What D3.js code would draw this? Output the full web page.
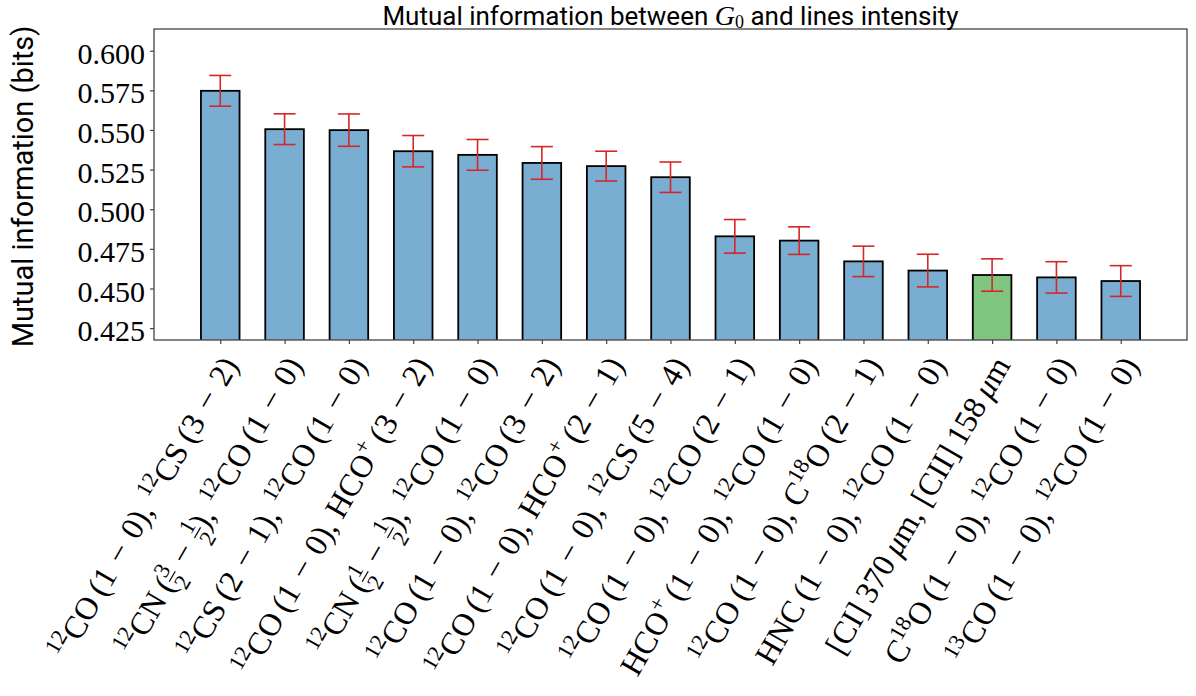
<!DOCTYPE html>
<html><head><meta charset="utf-8">
<script src="https://cdn.jsdelivr.net/npm/d3@7/dist/d3.min.js"></script>
<style>body{margin:0;background:#fff}svg{display:block}</style>
</head><body>
<svg id="c" width="1196" height="696"></svg>
<script>
// ---- data ----
const categories = [
  "^{12}CO\u2009(1\u2004−\u20040), ^{12}CS\u2009(3\u2004−\u20042)",
  "^{12}CN\u2009(\\frac{3}{2}\u2004−\u2004\\frac{1}{2}), ^{12}CO\u2009(1\u2004−\u20040)",
  "^{12}CS\u2009(2\u2004−\u20041), ^{12}CO\u2009(1\u2004−\u20040)",
  "^{12}CO\u2009(1\u2004−\u20040), HCO^{+}\u2009(3\u2004−\u20042)",
  "^{12}CN\u2009(\\frac{1}{2}\u2004−\u2004\\frac{1}{2}), ^{12}CO\u2009(1\u2004−\u20040)",
  "^{12}CO\u2009(1\u2004−\u20040), ^{12}CO\u2009(3\u2004−\u20042)",
  "^{12}CO\u2009(1\u2004−\u20040), HCO^{+}\u2009(2\u2004−\u20041)",
  "^{12}CO\u2009(1\u2004−\u20040), ^{12}CS\u2009(5\u2004−\u20044)",
  "^{12}CO\u2009(1\u2004−\u20040), ^{12}CO\u2009(2\u2004−\u20041)",
  "HCO^{+}\u2009(1\u2004−\u20040), ^{12}CO\u2009(1\u2004−\u20040)",
  "^{12}CO\u2009(1\u2004−\u20040), C^{18}O\u2009(2\u2004−\u20041)",
  "HNC\u2009(1\u2004−\u20040), ^{12}CO\u2009(1\u2004−\u20040)",
  "[CI]\u2009370\u2009\\mu{}m, [CII]\u2009158\u2009\\mu{}m",
  "C^{18}O\u2009(1\u2004−\u20040), ^{12}CO\u2009(1\u2004−\u20040)",
  "^{13}CO\u2009(1\u2004−\u20040), ^{12}CO\u2009(1\u2004−\u20040)"
];
const values = [0.5747, 0.5505, 0.5499, 0.5366, 0.5343, 0.5292, 0.5272, 0.5202,
                0.4829, 0.4802, 0.4671, 0.4613, 0.4585, 0.4570, 0.4547];
const errors = [0.0097, 0.0097, 0.0102, 0.0099, 0.0097, 0.0103, 0.0094, 0.0096,
                0.0106, 0.0087, 0.0096, 0.0103, 0.0102, 0.0099, 0.0097];
const highlight = [false,false,false,false,false,false,false,false,false,false,false,false,true,false,false];
const yTicks = [0.425, 0.450, 0.475, 0.500, 0.525, 0.550, 0.575, 0.600];
const yLimits = [0.4175, 0.6137];
const titleParts = ["Mutual information between ", "G", "0", " and lines intensity"];
const yLabel = "Mutual information (bits)";

// ---- layout ----
const svg = d3.select("#c");
const L = 154, R = 1187, T = 29, B = 340;
const x = d3.scaleLinear().domain([-1.03, categories.length - 1 + 1.03]).range([L, R]);
const y = d3.scaleLinear().domain(yLimits).range([B, T]);
const barW = 0.6;
const blue = "#79add2", green = "#80c680", errColor = "#d62728";

svg.append("clipPath").attr("id","clip").append("rect")
  .attr("x", L).attr("y", T).attr("width", R-L).attr("height", B-T);

const gBars = svg.append("g").attr("clip-path","url(#clip)");
gBars.selectAll("rect").data(values).join("rect")
  .attr("x", (d,i) => x(i - barW/2))
  .attr("width", x(barW) - x(0))
  .attr("y", d => y(d))
  .attr("height", d => y(0) - y(d))
  .attr("fill", (d,i) => highlight[i] ? green : blue)
  .attr("stroke", "#000").attr("stroke-width", 1.8);

// error bars
const cap = 11;
const gErr = svg.append("g").attr("stroke", errColor).attr("stroke-width", 1.6);
values.forEach((v,i) => {
  const cx = x(i);
  gErr.append("line").attr("x1",cx).attr("x2",cx).attr("y1",y(v-errors[i])).attr("y2",y(v+errors[i]));
  gErr.append("line").attr("x1",cx-cap).attr("x2",cx+cap).attr("y1",y(v-errors[i])).attr("y2",y(v-errors[i]));
  gErr.append("line").attr("x1",cx-cap).attr("x2",cx+cap).attr("y1",y(v+errors[i])).attr("y2",y(v+errors[i]));
});

// frame
svg.append("rect").attr("x",L).attr("y",T).attr("width",R-L).attr("height",B-T)
  .attr("fill","none").attr("stroke","#444").attr("stroke-width",1.3);

// y axis
const yAxis = d3.axisLeft(y).tickValues(yTicks).tickSize(4).tickPadding(5).tickFormat(d3.format(".3f"));
const gy = svg.append("g").attr("transform",`translate(${L},0)`).call(yAxis);
gy.select(".domain").remove();
gy.selectAll(".tick line").attr("stroke","#444").attr("stroke-width",1.2);
gy.selectAll(".tick text").attr("font-family","'Liberation Serif', serif").attr("font-size",30)
  .attr("fill","#000").attr("dy", "0.42em");

// x axis ticks
const xAxis = d3.axisBottom(x).tickValues(d3.range(categories.length)).tickSize(4).tickFormat("");
const gx = svg.append("g").attr("transform",`translate(0,${B})`).call(xAxis);
gx.select(".domain").remove();
gx.selectAll(".tick line").attr("stroke","#444").attr("stroke-width",1.2);

// math-ish label renderer
function renderMath(t, str, f) {
  const re = /\^\{([^}]*)\}|\\frac\{([^}]*)\}\{([^}]*)\}|\\mu\{\}|([^\^\\]+)/g;
  let cur = 0, m; const fracs = [];
  while ((m = re.exec(str))) {
    if (m[1] !== undefined) {
      const tg = -0.40*f;
      t.append("tspan").attr("font-size",0.7*f).attr("dy",tg-cur).text(m[1]); cur = tg;
    } else if (m[2] !== undefined) {
      const tn = -0.394*f, td = 0.345*f;
      const num = t.append("tspan").attr("font-size",0.7*f).attr("dy",tn-cur).text(m[2]);
      t.append("tspan").attr("font-size",0.7*f).attr("dx",-0.35*f).attr("dy",td-tn).text(m[3]);
      cur = td; fracs.push(num);
    } else if (m[0] === "\\mu{}") {
      t.append("tspan").attr("font-size",f).attr("font-style","italic").attr("dy",-cur).text("μ"); cur = 0;
    } else {
      t.append("tspan").attr("font-size",f).attr("dy",-cur).text(m[4]); cur = 0;
    }
  }
  return fracs;
}

const fs = 32;
const gLab = svg.append("g");
categories.forEach((c,i) => {
  const g = gLab.append("g").attr("transform",`translate(${x(i)+19},${B+25}) rotate(-60)`);
  const t = g.append("text").attr("text-anchor","end").attr("font-family","'Liberation Serif', serif")
    .attr("font-size",fs).attr("fill","#000").style("white-space","pre");
  const fr = renderMath(t, c, fs);
  fr.forEach(n => {
    const bb = n.node().getBBox();
    g.append("line").attr("x1",bb.x-0.5).attr("x2",bb.x+bb.width+0.5)
      .attr("y1",-0.25*fs).attr("y2",-0.25*fs).attr("stroke","#000").attr("stroke-width",1.2);
  });
});

// title
const tt = svg.append("text").attr("x",(L+R)/2).attr("y",24.5).attr("text-anchor","middle")
  .attr("font-family","Roboto, sans-serif").attr("font-size",26).attr("fill","#000");
tt.append("tspan").text(titleParts[0]);
tt.append("tspan").attr("font-family","'Liberation Serif', serif").attr("font-style","italic").attr("font-size",28).text(titleParts[1]);
tt.append("tspan").attr("font-family","'Liberation Serif', serif").attr("font-size",18).attr("dy",3).text(titleParts[2]);
tt.append("tspan").attr("dy",-3).text(titleParts[3]);

// y label
svg.append("text").attr("transform",`translate(33,${(T+B)/2+2}) rotate(-90)`).attr("text-anchor","middle")
  .attr("font-family","Roboto, sans-serif").attr("font-size",29).attr("fill","#000").text(yLabel);
</script>
</body></html>
